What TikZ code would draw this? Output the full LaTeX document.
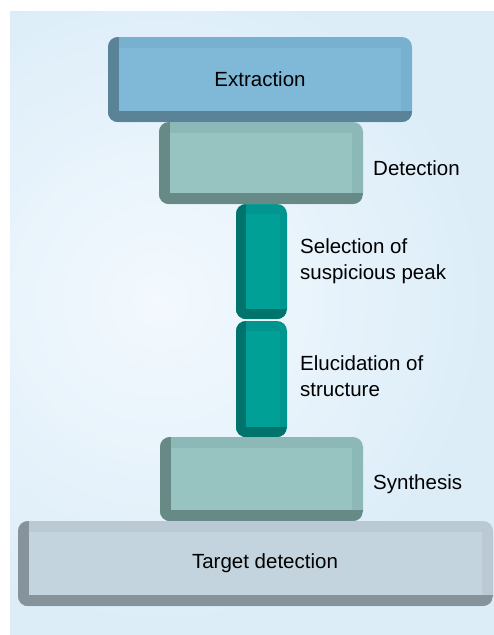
\documentclass[tikz,border=0pt]{standalone}
\usepackage{fontspec}
\setmainfont{Liberation Sans}
\definecolor{bgout}{HTML}{DCEDF8}
\definecolor{bgin}{HTML}{F3F9FE}
\definecolor{exTop}{HTML}{78B0CF}
\definecolor{exFace}{HTML}{80B8D8}
\definecolor{exDark}{HTML}{5B8398}
\definecolor{deTop}{HTML}{8CB9B7}
\definecolor{deFace}{HTML}{97C3C1}
\definecolor{deDark}{HTML}{678A87}
\definecolor{brTop}{HTML}{00968F}
\definecolor{brFace}{HTML}{00A097}
\definecolor{brDark}{HTML}{00736C}
\definecolor{tgTop}{HTML}{BAC9D3}
\definecolor{tgFace}{HTML}{C4D4DE}
\definecolor{tgDark}{HTML}{87939A}
\tikzset{
  bev/.style n args={5}{rounded corners=10pt, fill=#1, inner sep=0pt,
    font=\fontsize{20.5}{26}\selectfont, text=black,
    path picture={
      \fill[#2, sharp corners] (path picture bounding box.north west) rectangle ([xshift=#4]path picture bounding box.south west);
      \fill[#2, sharp corners] (path picture bounding box.south west) rectangle ([yshift=#4]path picture bounding box.south east);
      \fill[#3, sharp corners] ([shift={(#4,-#4)}]path picture bounding box.north west) rectangle ([shift={(-#5,#4)}]path picture bounding box.south east);
    }},
  lbl/.style={anchor=west, align=left, inner sep=0pt, text=black, font=\fontsize{20.5}{26}\selectfont}
}
\begin{document}
\begin{tikzpicture}[x=1pt, y=-1pt]
\useasboundingbox (0,0) rectangle (494,635);
\fill[white] (0,0) rectangle (494,635);
\begin{scope}
  \clip (10,11) rectangle (494,635);
  \fill[bgout] (10,11) rectangle (494,635);
  \shade[inner color=bgin, outer color=bgout] (160,300) circle (330);
\end{scope}
% bars
\node[bev={brTop}{brDark}{brFace}{10pt}{7pt}, minimum width=51pt, minimum height=115pt] (sel) at (261.5,261.5) {};
\node[bev={brTop}{brDark}{brFace}{10pt}{7pt}, minimum width=51pt, minimum height=116pt] (elu) at (261.5,379) {};
% boxes
\node[bev={deTop}{deDark}{deFace}{11pt}{11pt}, minimum width=204pt, minimum height=82pt] (det) at (261,163) {};
\node[bev={exTop}{exDark}{exFace}{11pt}{11pt}, minimum width=304pt, minimum height=85pt] (ext) at (260,79.5) {Extraction};
\node[bev={deTop}{deDark}{deFace}{11pt}{11pt}, minimum width=203pt, minimum height=84pt] (syn) at (261.5,479) {};
\node[bev={tgTop}{tgDark}{tgFace}{11pt}{11pt}, minimum width=475pt, minimum height=85pt] (tgt) at (255.5,563.5) {\hspace*{19pt}Target detection};
% labels
\node[lbl] (ldet) at (373,168) {Detection};
\node[lbl] (lsel) at (300,261) {Selection of\\suspicious peak};
\node[lbl] (lelu) at (300,376) {Elucidation of\\structure};
\node[lbl] (lsyn) at (373,484) {Synthesis};
\end{tikzpicture}
\end{document}
